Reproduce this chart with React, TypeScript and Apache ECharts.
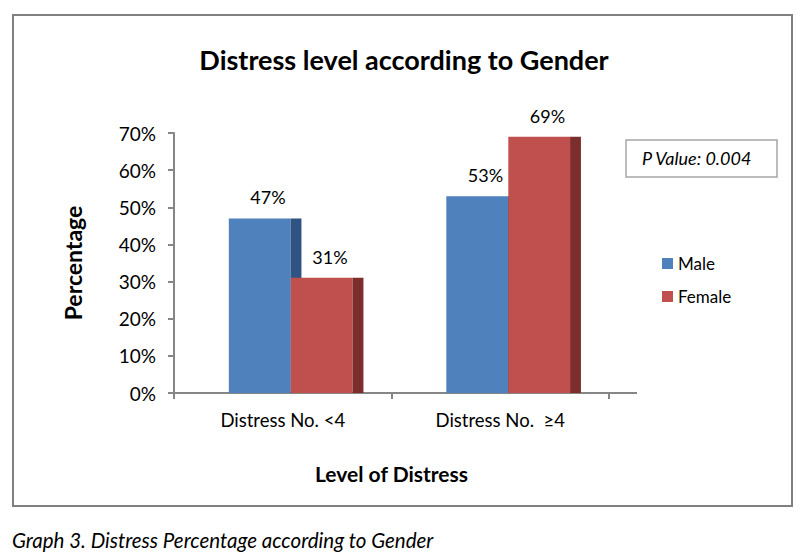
import React, { useEffect, useRef } from "react";
import * as echarts from "echarts";

const categories = ["Distress No. <4", "Distress No.  \u22654"];
const maleValues = [47, 53];
const femaleValues = [31, 69];
const yTicks = { min: 0, max: 70, interval: 10 };
const seriesNames = ["Male", "Female"];

const FONT = "Lato, 'Open Sans', sans-serif";

function makeSeries(name: string, values: number[], front: string, side: string, offset: number) {
  return {
    type: "custom",
    name,
    itemStyle: { color: front },
    data: values.map((v, i) => [i, v]),
    renderItem: (params: any, api: any) => {
      const cat = api.value(0);
      const v = api.value(1);
      const top = api.coord([cat, v]);
      const base = api.coord([cat, 0]);
      const band = api.size([1, 0])[0];
      const frontW = band * 0.284;
      const depth = band * 0.05;
      const x0 = top[0] + band * offset;
      const h = base[1] - top[1];
      return {
        type: "group",
        children: [
          { type: "rect", shape: { x: x0, y: top[1], width: frontW, height: h }, style: { fill: front } },
          { type: "rect", shape: { x: x0 + frontW, y: top[1], width: depth, height: h }, style: { fill: side } },
          {
            type: "text",
            x: x0 + band * 0.18,
            y: top[1] - 21,
            style: {
              text: v + "%",
              fill: "#000",
              font: `18px ${FONT}`,
              align: "center",
              verticalAlign: "middle",
            },
          },
        ],
      };
    },
  };
}

export default function App() {
  const ref = useRef<HTMLDivElement>(null);
  useEffect(() => {
    if (!ref.current) return;
    const chart = echarts.init(ref.current, undefined, { renderer: "svg" });
    chart.setOption({
      animation: false,
      backgroundColor: "#fff",
      textStyle: { fontFamily: FONT },
      title: {
        text: "Distress level according to Gender",
        left: "center",
        top: 41,
        textStyle: { fontSize: 27, fontWeight: "bold", color: "#000", fontFamily: FONT },
      },
      grid: { left: 174, right: 199, top: 133, bottom: 167, containLabel: false, outerBoundsMode: "none" },
      legend: {
        orient: "vertical",
        left: 662,
        top: 255,
        padding: 0,
        itemWidth: 11,
        itemHeight: 11,
        itemGap: 16,
        icon: "rect",
        data: seriesNames,
        textStyle: { fontSize: 17, color: "#000", fontFamily: FONT },
      },
      xAxis: {
        type: "category",
        data: categories,
        name: "Level of Distress",
        nameLocation: "middle",
        nameGap: 70,
        nameTextStyle: { fontSize: 21, fontWeight: "bold", color: "#000", fontFamily: FONT },
        axisLine: { lineStyle: { color: "#868686", width: 2 } },
        axisTick: { show: true, length: 6, lineStyle: { color: "#868686", width: 2 } },
        axisLabel: { fontSize: 18.5, color: "#000", margin: 17, fontFamily: FONT },
      },
      yAxis: {
        type: "value",
        min: yTicks.min,
        max: yTicks.max,
        interval: yTicks.interval,
        name: "Percentage",
        nameLocation: "middle",
        nameGap: 90,
        nameTextStyle: { fontSize: 23, fontWeight: "bold", color: "#000", fontFamily: FONT },
        axisLine: { show: true, lineStyle: { color: "#868686", width: 2 } },
        axisTick: { show: true, length: 6, lineStyle: { color: "#868686", width: 2 } },
        splitLine: { show: false },
        axisLabel: { fontSize: 19, color: "#000", margin: 18, formatter: "{value}%", fontFamily: FONT },
      },
      series: [
        makeSeries(seriesNames[0], maleValues, "#4F81BD", "#2F5382", -0.248),
        makeSeries(seriesNames[1], femaleValues, "#C0504D", "#7C2E2C", 0.037),
      ],
      graphic: [
        {
          type: "rect",
          shape: { x: 13, y: 15, width: 779, height: 491 },
          style: { fill: "none", stroke: "#808080", lineWidth: 2 },
          silent: true,
        },
        {
          type: "line",
          shape: { x1: 609, y1: 393, x2: 637, y2: 393 },
          style: { stroke: "#868686", lineWidth: 2 },
        },
        {
          type: "rect",
          shape: { x: 626, y: 140, width: 151, height: 37 },
          style: { fill: "#fff", stroke: "#A6A6A6", lineWidth: 1.5 },
        },
        {
          type: "text",
          x: 642,
          y: 158,
          style: {
            text: "P Value: 0.004",
            font: `italic 18px ${FONT}`,
            fill: "#000",
            align: "left",
            verticalAlign: "middle",
          },
        },
        {
          type: "text",
          x: 12,
          y: 540,
          style: {
            text: "Graph 3. Distress Percentage according to Gender",
            font: `italic 20.5px ${FONT}`,
            fill: "#000",
            align: "left",
            verticalAlign: "middle",
          },
        },
      ],
    });
    return () => chart.dispose();
  }, []);
  return <div ref={ref} style={{ position: "fixed", left: 0, top: 0, width: 808, height: 560 }} />;
}
